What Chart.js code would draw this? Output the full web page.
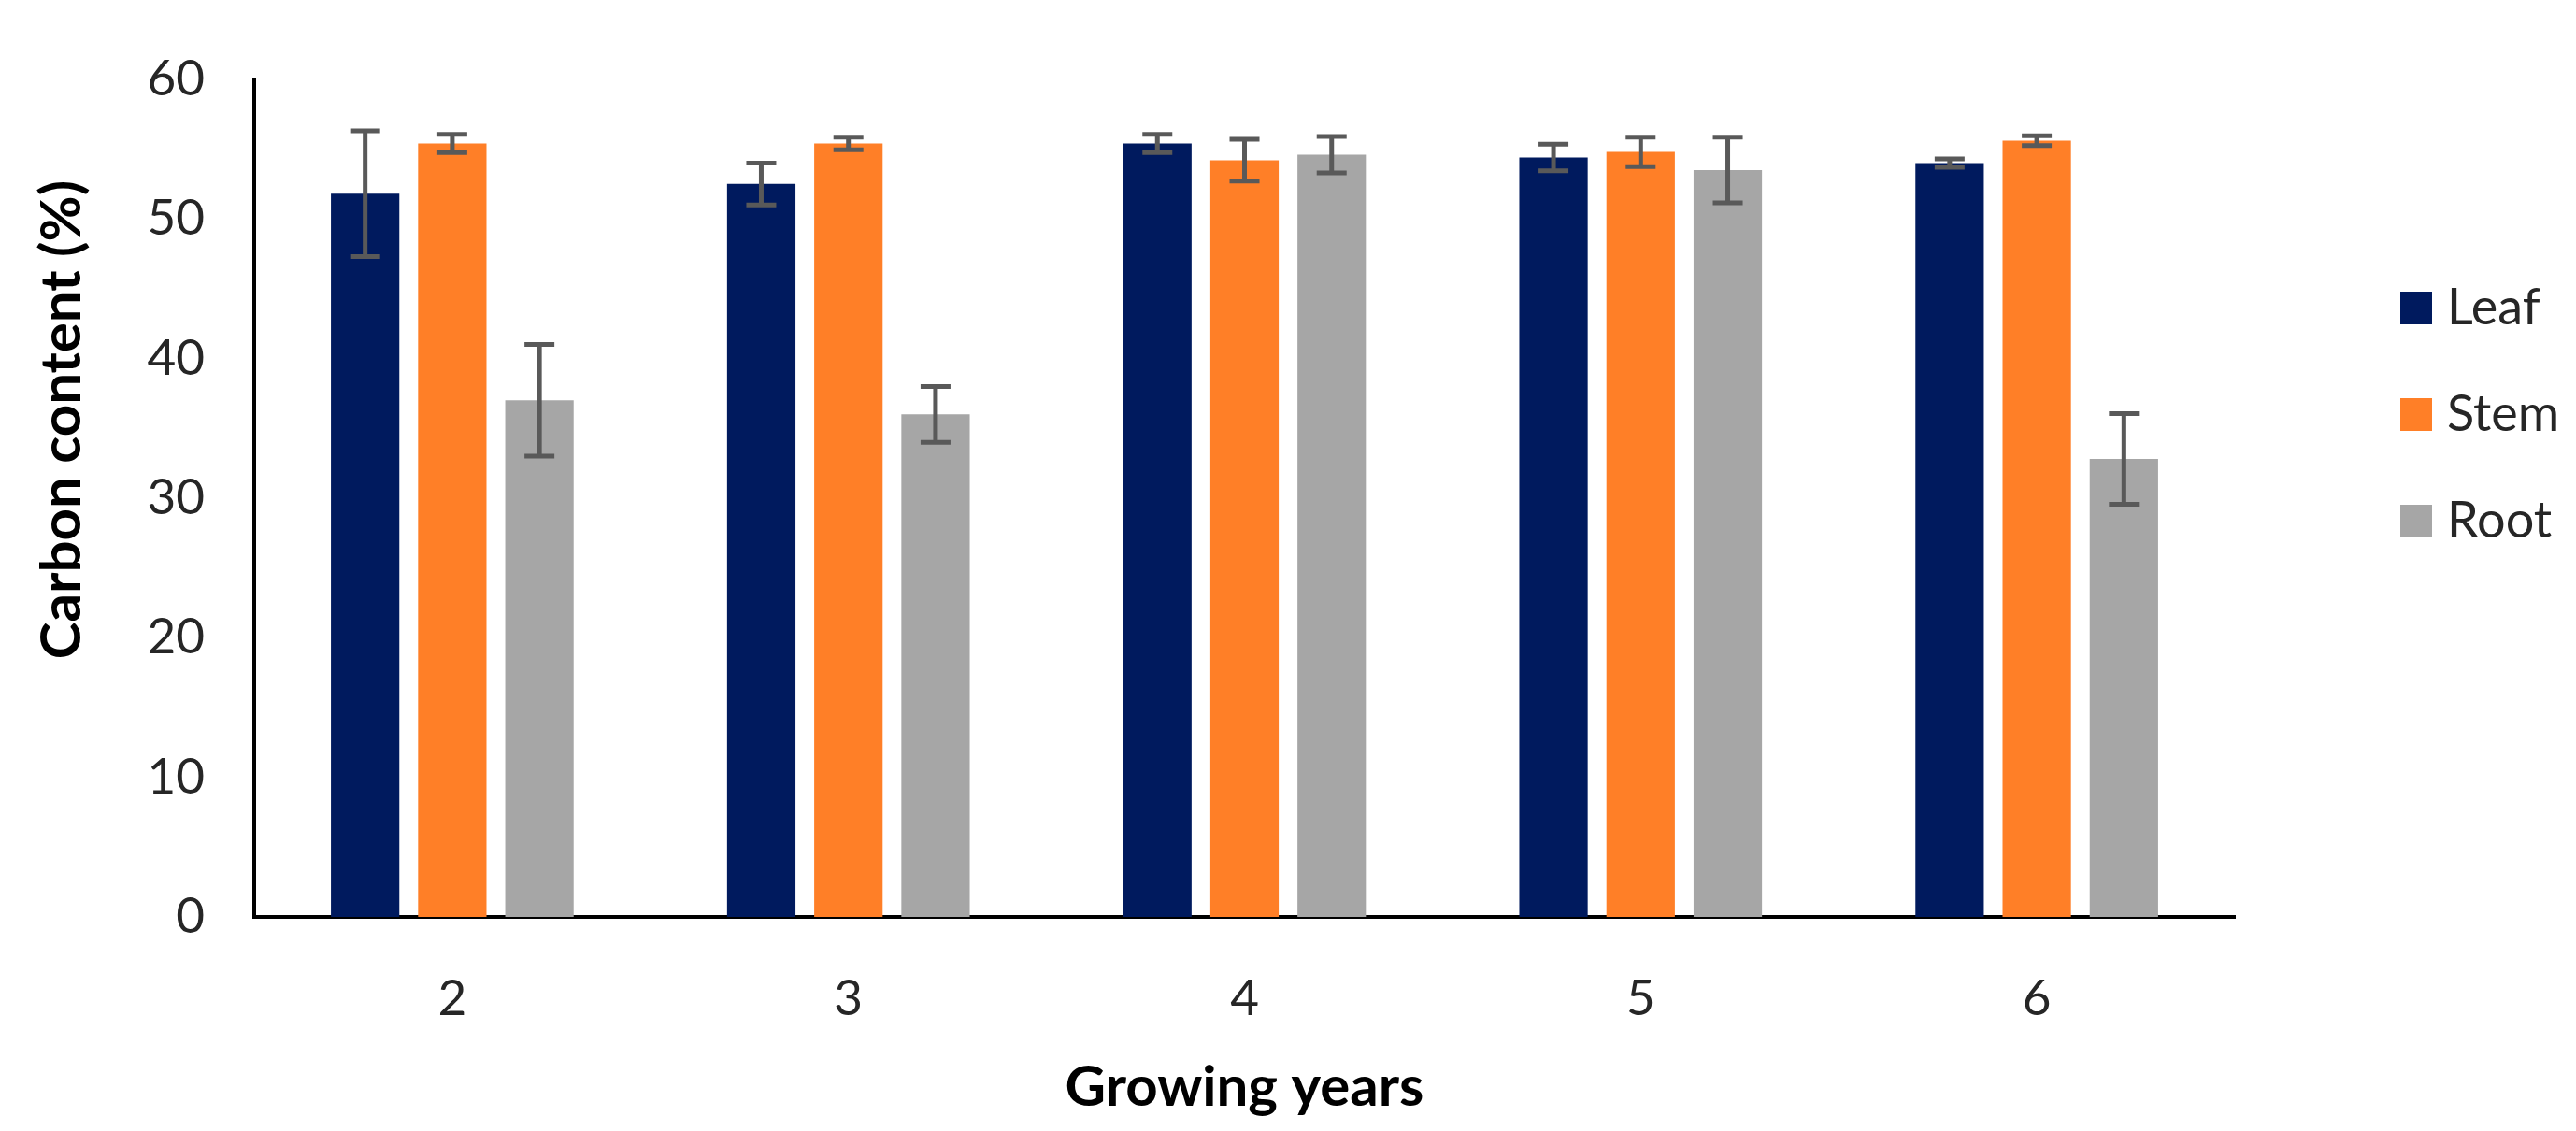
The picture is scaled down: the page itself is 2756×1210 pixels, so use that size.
<!DOCTYPE html>
<html>
<head>
<meta charset="utf-8">
<script src="https://cdn.jsdelivr.net/npm/chart.js@4.4.1/dist/chart.umd.min.js"></script>
<style>
    html, body { margin: 0; padding: 0; background: #fff; }
</style>
</head>
<body>
<canvas id="BarChart1" width="2756" height="1210"></canvas>
<script>
// values (mean and +/- error)
const growingYears = ['2', '3', '4', '5', '6'];
const leafMeans = [51.8, 52.5, 55.4, 54.4, 54.0];
const leafErrors = [4.5, 1.5, 0.65, 0.95, 0.3];
const stemMeans = [55.4, 55.4, 54.2, 54.8, 55.6];
const stemErrors = [0.65, 0.45, 1.5, 1.05, 0.35];
const rootMeans = [37.0, 36.0, 54.6, 53.5, 32.8];
const rootErrors = [4.0, 2.0, 1.3, 2.35, 3.25];
const yTicks = [0, 10, 20, 30, 40, 50, 60];

const fontFamily = 'Lato, "Open Sans", sans-serif';
const textColor = '#262626';

// draws the +/- error whiskers on top of each bar
const errorBars = {
    id: 'errorBars',
    afterDatasetsDraw(chart) {
        const ctx = chart.ctx;
        const yScale = chart.scales.y;
        ctx.save();
        ctx.strokeStyle = '#595959';
        ctx.lineWidth = 5;
        chart.data.datasets.forEach((ds, i) => {
            chart.getDatasetMeta(i).data.forEach((bar, j) => {
                const top = yScale.getPixelForValue(ds.data[j] + ds.errors[j]);
                const bottom = yScale.getPixelForValue(ds.data[j] - ds.errors[j]);
                const x = bar.x;
                ctx.beginPath();
                ctx.moveTo(x, top);
                ctx.lineTo(x, bottom);
                ctx.moveTo(x - 16, top);
                ctx.lineTo(x + 16, top);
                ctx.moveTo(x - 16, bottom);
                ctx.lineTo(x + 16, bottom);
                ctx.stroke();
            });
        });
        ctx.restore();
    }
};

// legend on the right and the rotated y title
const sideText = {
    id: 'sideText',
    afterDraw(chart) {
        const ctx = chart.ctx;
        ctx.save();
        ctx.textBaseline = 'alphabetic';
        ctx.font = '54px ' + fontFamily;
        chart.data.datasets.forEach((ds, i) => {
            const base = 347 + i * 114;
            ctx.fillStyle = ds.backgroundColor;
            ctx.fillRect(2568, base - 35, 34, 35);
            ctx.fillStyle = textColor;
            ctx.fillText(ds.label, 2618, base);
        });

        ctx.translate(67, 449);
        ctx.rotate(-Math.PI / 2);
        ctx.textAlign = 'center';
        ctx.textBaseline = 'middle';
        ctx.font = 'bold 60px ' + fontFamily;
        ctx.fillStyle = '#000';
        ctx.fillText('Carbon content (%)', 0, 0);
        ctx.restore();
    }
};

const ctx1 = document.getElementById('BarChart1');
const BarChart1 = new Chart(ctx1, {
    type: 'bar',
    data: {
        labels: growingYears,
        datasets: [
            { label: 'Leaf', data: leafMeans, errors: leafErrors, backgroundColor: '#001A5E' },
            { label: 'Stem', data: stemMeans, errors: stemErrors, backgroundColor: '#FF7F27' },
            { label: 'Root', data: rootMeans, errors: rootErrors, backgroundColor: '#A6A6A6' }
        ]
    },
    options: {
        responsive: false,
        animation: false,
        devicePixelRatio: 1,
        layout: { padding: { top: 39, right: 365, left: 0, bottom: 0 } },
        datasets: {
            bar: { categoryPercentage: 0.66, barPercentage: 0.785 }
        },
        plugins: {
            legend: { display: false },
            tooltip: { enabled: false }
        },
        scales: {
            x: {
                grid: { display: false, drawTicks: false },
                border: { display: true, color: '#000', width: 4 },
                ticks: { font: { family: fontFamily, size: 53 }, color: textColor, padding: 56 },
                title: {
                    display: true,
                    text: 'Growing years',
                    font: { family: fontFamily, size: 60, weight: 'bold' },
                    color: '#000',
                    padding: { top: 0, bottom: 10 }
                },
                afterFit(scale) { scale.height = 229; }
            },
            y: {
                min: 0,
                max: 60,
                grid: { display: false, drawTicks: false },
                border: { display: true, color: '#000', width: 4 },
                ticks: { font: { family: fontFamily, size: 53 }, color: textColor, padding: 53 },
                afterBuildTicks(scale) { scale.ticks = yTicks.map(v => ({ value: v })); },
                afterFit(scale) { scale.width = 272; }
            }
        }
    },
    plugins: [errorBars, sideText]
});
</script>
</body>
</html>
